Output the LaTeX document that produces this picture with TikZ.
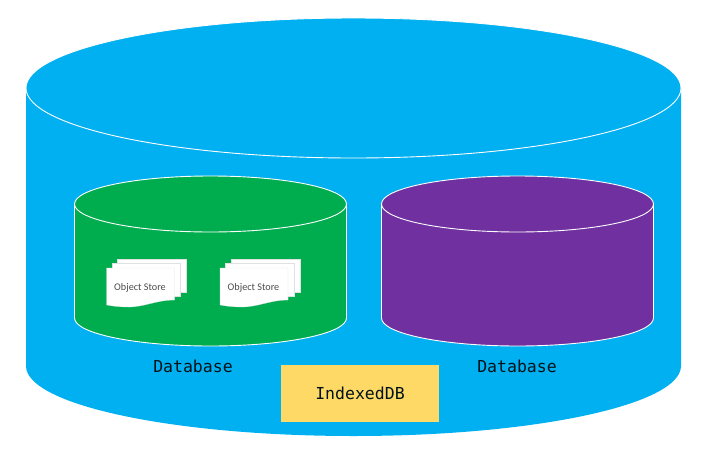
\documentclass[tikz,border=0pt]{standalone}
\usepackage{fontspec}
\usepackage{xcolor}
\setmonofont{DejaVu Sans Mono}
\newfontfamily\storefont{Carlito}
\definecolor{dbblue}{HTML}{00B0F0}
\definecolor{dbgreen}{HTML}{00AD4E}
\definecolor{dbpurple}{HTML}{7030A0}
\definecolor{dbyellow}{HTML}{FFD966}
\tikzset{
	rim/.style={draw=white, line width=0.9pt},
	label/.style={font=\ttfamily\fontsize{16.5}{18}\selectfont, text=black!90!dbblue},
	sheet/.style={fill=white, draw=black!12, line width=0.2pt},
	pics/store/.style={code={
		\path[sheet] (11,-9) -- (80,-9) -- (80,24) -- (11,24) -- cycle;
		\path[sheet] (5.5,-5) -- (74,-5) -- (74,28) -- (5.5,28) -- cycle;
		\path[sheet] (0,0) -- (68,0) -- (68,32) .. controls (50,32) and (38,39) .. (22,39) .. controls (12,39) and (6,38) .. (0,37) -- cycle;
		\node[font=\storefont\fontsize{10.2}{12}\selectfont, text=black!70] at (33.5,19.5) {Object Store};
	}},
}
\newcommand{\dbcyl}[6]{% colour, left, right, top centre, bottom centre, ry
	\path[fill=#1] (#2,#4) -- (#2,#5) arc[start angle=180, end angle=0, x radius={(#3-#2)/2}, y radius=#6] -- (#3,#4) -- cycle;
	\path[fill=#1] ({(#2+#3)/2},#4) ellipse[x radius={(#3-#2)/2}, y radius=#6];
}
\begin{document}
\begin{tikzpicture}[x=1pt, y=-1pt]
	\useasboundingbox (0,0) rectangle (718,464);
	\fill[white] (0,0) rectangle (718,464);

	% outer cylinder
	\dbcyl{dbblue}{26}{681}{88}{366}{70}
	\draw[rim] (353.5,88) ellipse[x radius=327.5, y radius=70];

	% left database
	\dbcyl{dbgreen}{74.5}{346.5}{204}{318}{28}
	\draw[rim] (74.5,204) -- (74.5,318) arc[start angle=180, end angle=0, x radius=136, y radius=28] -- (346.5,204);
	\draw[rim] (210.5,204) ellipse[x radius=136, y radius=28];

	% right database
	\dbcyl{dbpurple}{381.5}{653.5}{204}{318}{28}
	\draw[rim] (381.5,204) -- (381.5,318) arc[start angle=180, end angle=0, x radius=136, y radius=28] -- (653.5,204);
	\draw[rim] (517.5,204) ellipse[x radius=136, y radius=28];

	\pic (store-1) at (106.5,268) {store};
	\pic (store-2) at (220,268) {store};

	\node[label] (db-left) at (193,366) {Database};
	\node[label] (db-right) at (517,366) {Database};
	\node[fill=dbyellow, minimum width=158pt, minimum height=57pt, inner sep=0pt, label] (idb) at (360,393.5) {IndexedDB};
\end{tikzpicture}
\end{document}
